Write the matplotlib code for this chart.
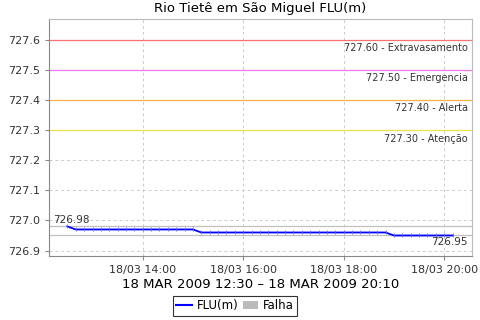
import datetime as dt
import matplotlib
matplotlib.use("Agg")
import matplotlib.pyplot as plt
import matplotlib.dates as mdates
from matplotlib.lines import Line2D
from matplotlib.patches import Patch

# data: one reading every 10 minutes, 18/03/2009 12:30 - 20:10
start = dt.datetime(2009, 3, 18, 12, 30)
times = [start + dt.timedelta(minutes=10 * i) for i in range(47)]
levels = ([726.98] + [726.97] * 15 + [726.96] * 23 + [726.95] * 8)

limit_values = [727.60, 727.50, 727.40, 727.30]
limit_names = ["Extravasamento", "Emergencia", "Alerta", "Atenção"]
limit_colors = ["#ff7070", "#ee77ee", "#ffb347", "#f5e04a"]

title = "Rio Tietê em São Miguel FLU(m)"
xlabel = "18 MAR 2009 12:30 – 18 MAR 2009 20:10"

fig = plt.figure(figsize=(4.8, 3.2), dpi=100)
ax = fig.add_axes([0.102, 0.2, 0.881, 0.7406])

ax.set_xlim(dt.datetime(2009, 3, 18, 12, 8), dt.datetime(2009, 3, 18, 20, 33))
ax.set_ylim(726.882, 727.668)
ax.set_yticks([726.9, 727.0, 727.1, 727.2, 727.3, 727.4, 727.5, 727.6])
ax.yaxis.set_major_formatter(matplotlib.ticker.FormatStrFormatter("%.1f"))
ax.xaxis.set_major_locator(mdates.HourLocator(byhour=[14, 16, 18, 20]))
ax.xaxis.set_major_formatter(mdates.DateFormatter("%d/%m %H:%M"))

ax.grid(True, color="#cccccc", linestyle=(0, (3, 3)), linewidth=0.7)
ax.set_axisbelow(True)
for s in ["top", "right"]:
    ax.spines[s].set_color("#bbbbbb")
for s in ["left", "bottom"]:
    ax.spines[s].set_color("#888888")
ax.tick_params(labelsize=8, colors="#333333", length=3, color="#888888")

# alert levels
for v, n, c in zip(limit_values, limit_names, limit_colors):
    ax.axhline(v, color=c, linewidth=0.9)
    ax.text(0.99, v - 0.012, f"{v:.2f} - {n}", transform=ax.get_yaxis_transform(),
            ha="right", va="top", fontsize=7, color="#333333")

# max / min lines
vmax, vmin = max(levels), min(levels)
ax.axhline(vmax, color="#c0c0c0", linewidth=0.9)
ax.axhline(vmin, color="#c0c0c0", linewidth=0.9)
ax.text(0.01, vmax + 0.005, f"{vmax:.2f}", transform=ax.get_yaxis_transform(),
        ha="left", va="bottom", fontsize=7.5, color="#333333")
ax.text(0.99, vmin - 0.006, f"{vmin:.2f}", transform=ax.get_yaxis_transform(),
        ha="right", va="top", fontsize=7.5, color="#333333")

ax.plot(times, levels, color="#0000ff", linewidth=1.3, marker="|",
        markersize=3, markeredgecolor="#6666ff", markeredgewidth=0.6)

ax.set_title(title, fontsize=9.5, pad=5)
ax.set_xlabel(xlabel, fontsize=9.5, labelpad=2)

handles = [Line2D([], [], color="#0000ff", linewidth=1.5),
           Patch(facecolor="#bbbbbb", edgecolor="none")]
leg = fig.legend(handles, ["FLU(m)", "Falha"], loc="lower center",
                 bbox_to_anchor=(0.49, -0.005), ncol=2, fontsize=8.5,
                 frameon=True, fancybox=False, handlelength=1.3,
                 handletextpad=0.4, columnspacing=0.4, borderpad=0.3,
                 handleheight=0.7)
leg.get_frame().set_edgecolor("black")
leg.get_frame().set_linewidth(0.8)

fig.savefig("out.png", dpi=100)
